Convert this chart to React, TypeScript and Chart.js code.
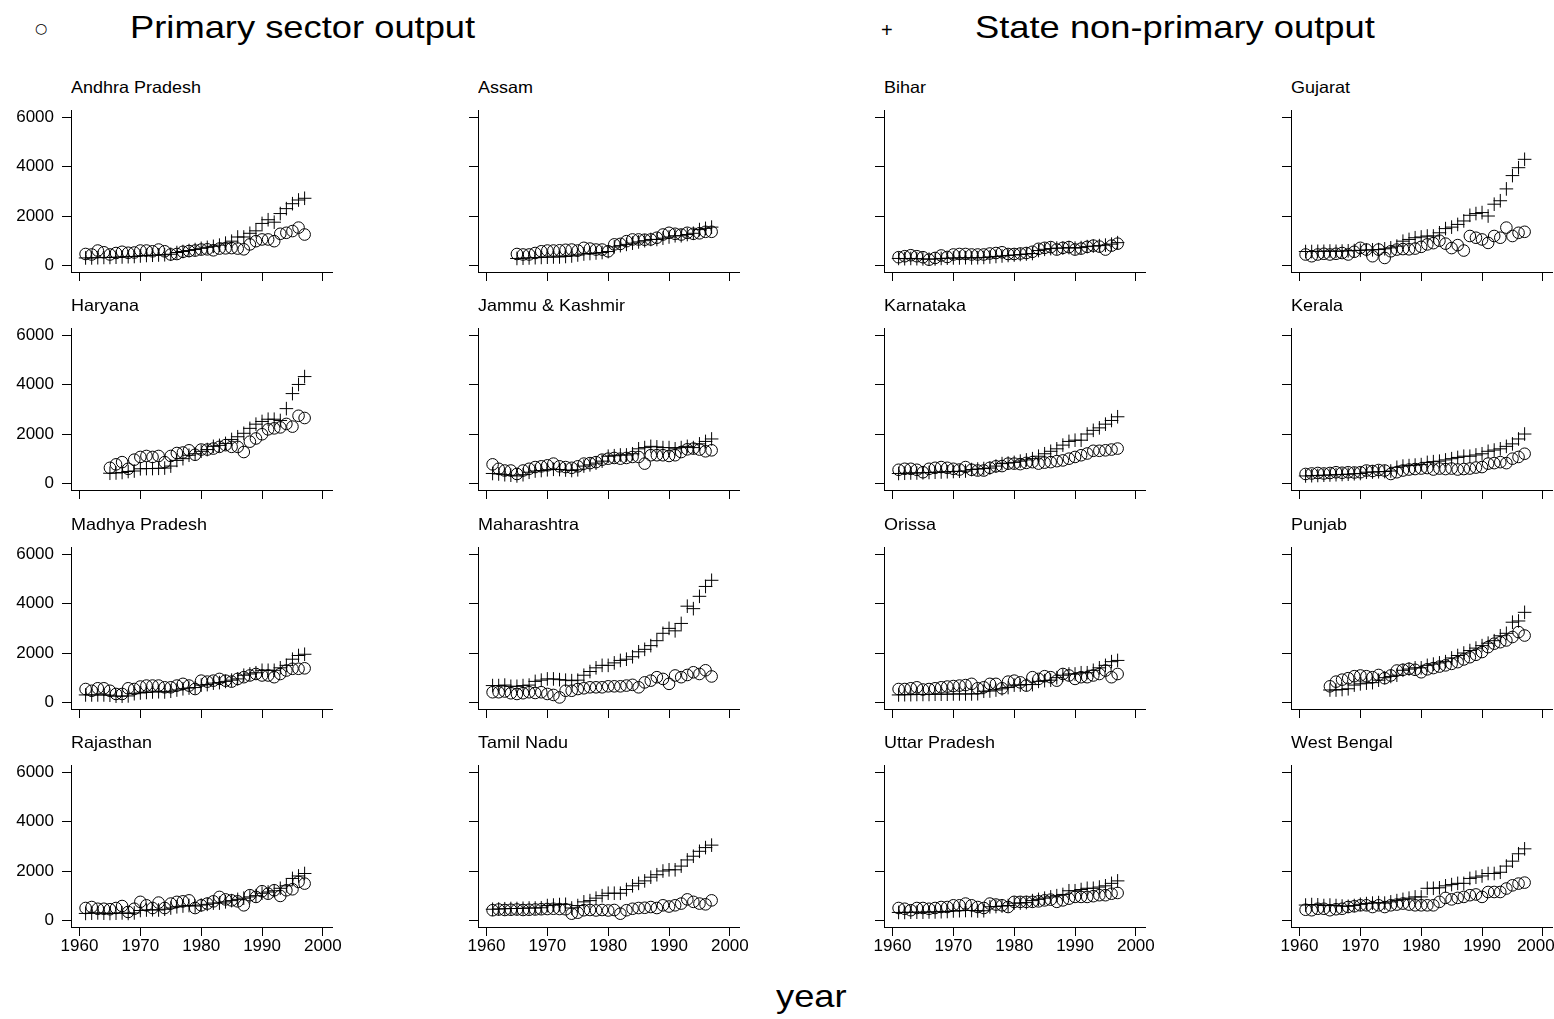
import React, { useEffect, useRef } from 'react';
import { Chart, registerables } from 'chart.js';

Chart.register(...registerables);

// ---------------- DATA ----------------
const years = [
  1961, 1962, 1963, 1964, 1965, 1966, 1967, 1968, 1969, 1970,
  1971, 1972, 1973, 1974, 1975, 1976, 1977, 1978, 1979, 1980,
  1981, 1982, 1983, 1984, 1985, 1986, 1987, 1988, 1989, 1990,
  1991, 1992, 1993, 1994, 1995, 1996, 1997,
];

const stateNames = [
  'Andhra Pradesh', 'Assam', 'Bihar', 'Gujarat',
  'Haryana', 'Jammu & Kashmir', 'Karnataka', 'Kerala',
  'Madhya Pradesh', 'Maharashtra', 'Orissa', 'Punjab',
  'Rajasthan', 'Tamil Nadu', 'Uttar Pradesh', 'West Bengal',
];

const xTickValues = [1960, 1970, 1980, 1990, 2000];
const yTickValues = [0, 2000, 4000, 6000];
const legendLabels = ['Primary sector output', 'State non-primary output'];
const xAxisTitle = 'year';

const N = null;

const primaryAndhraPradesh = [460, 440, 600, 530, 440, 500, 550, 510, 520, 600, 600, 570, 640, 570, 440, 460, 550, 580, 600, 640, 650, 610, 680, 690, 700, 680, 650, 850, 980, 1050, 1050, 980, 1280, 1320, 1390, 1530, 1250];
const nonPrimaryAndhraPradesh = [300, 300, 310, 320, 320, 330, 340, 350, 360, 380, 400, 410, 420, 430, 450, 520, 560, 600, 640, 690, 730, 770, 820, 900, 980, 1150, 1150, 1300, 1400, 1700, 1850, 1750, 2100, 2300, 2500, 2650, 2720];

const primaryAssam = [N, N, N, N, 460, 440, 440, 500, 570, 600, 600, 610, 630, 640, 600, 710, 680, 640, 640, 570, 850, 870, 980, 1050, 1050, 1040, 1050, 1120, 1250, 1320, 1280, 1250, 1320, 1280, 1300, 1360, 1360];
const nonPrimaryAssam = [N, N, N, N, 280, 290, 300, 310, 320, 330, 340, 340, 360, 380, 420, 460, 480, 500, 520, 560, 750, 800, 850, 900, 950, 1000, 1050, 1050, 1100, 1150, 1200, 1200, 1250, 1300, 1450, 1500, 1550];

const primaryBihar = [330, 370, 410, 370, 330, 230, 300, 400, 340, 440, 460, 460, 440, 440, 440, 480, 500, 530, 460, 460, 480, 500, 550, 670, 710, 740, 640, 710, 740, 640, 680, 750, 800, 760, 640, 800, 880];
const nonPrimaryBihar = [280, 270, 280, 270, 260, 250, 260, 280, 290, 300, 300, 310, 300, 310, 320, 340, 360, 380, 400, 420, 440, 460, 480, 600, 650, 680, 700, 700, 720, 700, 720, 760, 780, 800, 820, 860, 920];

const primaryGujarat = [440, 370, 440, 470, 440, 470, 500, 440, 550, 710, 640, 370, 640, 300, 570, 640, 660, 650, 680, 750, 850, 900, 1000, 880, 700, 820, 600, 1190, 1120, 1050, 910, 1190, 1120, 1530, 1190, 1320, 1360];
const nonPrimaryGujarat = [560, 560, 570, 570, 580, 570, 580, 590, 600, 610, 620, 630, 640, 670, 710, 780, 980, 1050, 1120, 1150, 1190, 1190, 1320, 1490, 1550, 1660, 1800, 2030, 2100, 2140, 2000, 2480, 2620, 3100, 3640, 3960, 4300];

const primaryHaryana = [N, N, N, N, 630, 770, 860, 590, 960, 1070, 1110, 1070, 1110, 860, 1110, 1230, 1250, 1340, 1160, 1370, 1370, 1410, 1480, 1550, 1480, 1480, 1270, 1690, 1820, 1990, 2190, 2230, 2270, 2410, 2300, 2740, 2650];
const nonPrimaryHaryana = [N, N, N, N, 410, 420, 440, 480, 500, 590, 600, 600, 610, 620, 700, 930, 1000, 1140, 1200, 1300, 1370, 1500, 1540, 1620, 1780, 1890, 2030, 2230, 2400, 2510, 2600, 2600, 2550, 3030, 3640, 4010, 4330];

const primaryJammuKashmir = [770, 590, 520, 520, 380, 520, 590, 660, 690, 730, 800, 690, 660, 630, 690, 800, 820, 860, 960, 1000, 1030, 1000, 1030, 1070, 1070, 800, 1140, 1140, 1140, 1110, 1140, 1270, 1380, 1410, 1370, 1300, 1340];
const nonPrimaryJammuKashmir = [400, 380, 350, 330, 300, 350, 450, 500, 520, 550, 570, 560, 540, 520, 550, 700, 750, 820, 900, 1100, 1120, 1150, 1150, 1200, 1400, 1450, 1500, 1480, 1450, 1450, 1400, 1450, 1500, 1450, 1600, 1700, 1800];

const primaryKarnataka = [550, 590, 590, 550, 450, 590, 630, 660, 630, 590, 560, 660, 550, 520, 520, 630, 690, 700, 800, 800, 780, 830, 860, 800, 840, 860, 900, 930, 1000, 1070, 1140, 1210, 1320, 1320, 1340, 1370, 1410];
const nonPrimaryKarnataka = [400, 410, 420, 420, 430, 440, 450, 460, 470, 480, 490, 500, 560, 580, 600, 620, 700, 800, 820, 850, 900, 950, 1000, 1100, 1200, 1300, 1400, 1550, 1700, 1750, 1750, 2000, 2150, 2250, 2400, 2550, 2700];

const primaryKerala = [380, 400, 420, 400, 420, 450, 430, 450, 440, 450, 520, 500, 540, 520, 380, 450, 520, 560, 580, 600, 620, 560, 600, 580, 600, 560, 580, 600, 640, 660, 800, 820, 860, 820, 1000, 1070, 1200];
const nonPrimaryKerala = [300, 310, 320, 330, 340, 350, 360, 370, 390, 400, 450, 460, 470, 480, 500, 650, 700, 720, 740, 760, 850, 880, 900, 950, 1000, 1050, 1100, 1100, 1150, 1200, 1300, 1350, 1400, 1500, 1600, 1800, 2000];

const primaryMadhyaPradesh = [540, 470, 570, 570, 470, 340, 340, 570, 540, 640, 680, 680, 680, 610, 610, 680, 750, 680, 540, 880, 840, 880, 950, 880, 840, 950, 1020, 1090, 1150, 1090, 1090, 1020, 1150, 1290, 1360, 1360, 1380];
const nonPrimaryMadhyaPradesh = [300, 300, 300, 300, 290, 250, 250, 260, 350, 380, 400, 420, 430, 420, 450, 500, 550, 580, 600, 700, 720, 780, 800, 850, 900, 950, 1100, 1150, 1200, 1300, 1300, 1300, 1400, 1500, 1750, 1900, 1950];

const primaryMaharashtra = [410, 410, 440, 370, 340, 370, 410, 380, 410, 340, 300, 200, 470, 470, 540, 570, 610, 610, 610, 650, 650, 650, 680, 710, 610, 810, 880, 1020, 950, 750, 1090, 1020, 1110, 1220, 1150, 1300, 1050];
const nonPrimaryMaharashtra = [680, 680, 700, 650, 650, 680, 700, 850, 900, 950, 950, 920, 900, 880, 900, 1100, 1250, 1400, 1500, 1500, 1600, 1700, 1750, 1850, 2050, 2150, 2300, 2500, 2800, 3000, 2900, 3200, 3900, 3800, 4300, 4700, 4950];

const primaryOrissa = [540, 540, 570, 610, 520, 540, 570, 610, 640, 660, 680, 700, 750, 570, 610, 750, 750, 570, 840, 880, 810, 680, 1020, 950, 1060, 1020, 880, 1150, 1090, 950, 1020, 1020, 1090, 1150, 1290, 1020, 1150];
const nonPrimaryOrissa = [300, 310, 310, 320, 320, 320, 330, 330, 330, 340, 340, 340, 340, 350, 450, 460, 500, 550, 600, 700, 700, 720, 720, 850, 880, 900, 1000, 1100, 1150, 1150, 1200, 1200, 1300, 1400, 1500, 1650, 1700];

const primaryPunjab = [N, N, N, N, 650, 840, 920, 980, 1060, 1090, 1060, 1020, 1110, 980, 1090, 1290, 1320, 1360, 1320, 1220, 1340, 1390, 1450, 1500, 1560, 1630, 1740, 1830, 1930, 2040, 2240, 2380, 2440, 2510, 2650, 2850, 2710];
const nonPrimaryPunjab = [N, N, N, N, 500, 500, 520, 550, 700, 750, 780, 800, 900, 1000, 1050, 1100, 1300, 1350, 1400, 1400, 1500, 1550, 1600, 1650, 1800, 1900, 2000, 2100, 2200, 2300, 2400, 2500, 2700, 2800, 3250, 3300, 3650];

const primaryRajasthan = [500, 540, 470, 470, 450, 500, 580, 340, 470, 750, 610, 500, 720, 500, 680, 750, 770, 810, 500, 610, 680, 770, 950, 850, 810, 770, 610, 1020, 950, 1180, 1080, 1220, 990, 1220, 1260, 1560, 1490];
const nonPrimaryRajasthan = [280, 290, 300, 290, 280, 290, 300, 280, 300, 400, 420, 430, 420, 450, 500, 550, 580, 600, 580, 620, 650, 700, 700, 750, 800, 850, 900, 950, 1000, 1100, 1150, 1200, 1300, 1400, 1700, 1800, 1900];

const primaryTamilNadu = [410, 440, 420, 430, 440, 420, 430, 440, 450, 460, 470, 460, 450, 270, 310, 410, 420, 400, 420, 400, 420, 270, 410, 470, 500, 510, 540, 500, 610, 560, 610, 680, 850, 750, 680, 650, 810];
const nonPrimaryTamilNadu = [450, 460, 470, 480, 480, 490, 500, 500, 510, 600, 620, 640, 650, 500, 600, 750, 800, 900, 1000, 1100, 1100, 1100, 1250, 1400, 1500, 1600, 1750, 1850, 2000, 2050, 2050, 2200, 2450, 2600, 2800, 2950, 3050];

const primaryUttarPradesh = [500, 470, 410, 500, 500, 470, 500, 540, 540, 610, 610, 680, 610, 540, 500, 680, 640, 610, 540, 750, 750, 750, 750, 770, 810, 840, 750, 810, 880, 950, 950, 950, 980, 1020, 1020, 1080, 1110];
const nonPrimaryUttarPradesh = [320, 320, 330, 330, 330, 340, 340, 350, 360, 380, 390, 400, 400, 380, 390, 550, 560, 580, 600, 700, 700, 720, 800, 850, 900, 950, 1000, 1050, 1200, 1200, 1250, 1300, 1300, 1350, 1400, 1500, 1600];

const primaryWestBengal = [430, 410, 470, 470, 410, 450, 470, 540, 570, 610, 610, 540, 610, 540, 610, 640, 680, 640, 610, 610, 610, 610, 750, 910, 850, 910, 950, 1020, 1050, 950, 1150, 1150, 1150, 1290, 1420, 1490, 1530];
const nonPrimaryWestBengal = [620, 640, 630, 600, 620, 600, 580, 570, 600, 650, 680, 700, 720, 700, 750, 800, 850, 900, 950, 950, 1300, 1300, 1320, 1400, 1450, 1500, 1500, 1700, 1750, 1800, 1900, 1900, 1950, 2200, 2400, 2700, 2900];

const primarySeries = [
  primaryAndhraPradesh, primaryAssam, primaryBihar, primaryGujarat,
  primaryHaryana, primaryJammuKashmir, primaryKarnataka, primaryKerala,
  primaryMadhyaPradesh, primaryMaharashtra, primaryOrissa, primaryPunjab,
  primaryRajasthan, primaryTamilNadu, primaryUttarPradesh, primaryWestBengal,
];
const nonPrimarySeries = [
  nonPrimaryAndhraPradesh, nonPrimaryAssam, nonPrimaryBihar, nonPrimaryGujarat,
  nonPrimaryHaryana, nonPrimaryJammuKashmir, nonPrimaryKarnataka, nonPrimaryKerala,
  nonPrimaryMadhyaPradesh, nonPrimaryMaharashtra, nonPrimaryOrissa, nonPrimaryPunjab,
  nonPrimaryRajasthan, nonPrimaryTamilNadu, nonPrimaryUttarPradesh, nonPrimaryWestBengal,
];

// ---------------- LAYOUT ----------------
const FONT = "'Liberation Sans', Arial, Helvetica, sans-serif";
const PLOT_W = 261;
const PLOT_H = 162;
const COL0 = 71;
const COL_STEP = 406.7;
const ROW0 = 110;
const ROW_STEP = 218.3;
const Y_AXIS_W = 70;
const PAD_TOP = 24;
const PAD_RIGHT = 24;
const X_AXIS_H = 40;
const X_MIN = 1958.6;
const X_MAX = 2001.5;
const Y_MIN = -270;
const Y_MAX = 6300;

const toPoints = (vals: (number | null)[]) =>
  years
    .map((yr, i) => ({ x: yr, y: vals[i] }))
    .filter((p) => p.y !== null && p.y !== undefined);

function Panel({ idx }: { idx: number }) {
  const ref = useRef<HTMLCanvasElement>(null);
  const col = idx % 4;
  const row = Math.floor(idx / 4);
  const plotLeft = Math.round(COL0 + col * COL_STEP);
  const plotTop = Math.round(ROW0 + row * ROW_STEP);
  const cw = Y_AXIS_W + PLOT_W + PAD_RIGHT;
  const ch = PAD_TOP + PLOT_H + X_AXIS_H;
  const showX = row === 3;
  const showY = col === 0;
  const lastCol = col === 3;

  useEffect(() => {
    const canvas = ref.current;
    if (!canvas) return;
    const chart = new Chart(canvas, {
      type: 'scatter',
      data: {
        datasets: [
          {
            label: legendLabels[0],
            data: toPoints(primarySeries[idx]),
            pointStyle: 'circle',
            pointRadius: 5.8,
            pointBorderWidth: 1,
            pointBorderColor: '#000',
            pointBackgroundColor: 'rgba(0,0,0,0)',
            showLine: false,
          },
          {
            label: legendLabels[1],
            data: toPoints(nonPrimarySeries[idx]),
            pointStyle: 'cross',
            pointRadius: 6.8,
            pointBorderWidth: 1,
            pointBorderColor: '#000',
            pointBackgroundColor: '#000',
            showLine: false,
          },
        ],
      },
      options: {
        animation: false,
        responsive: false,
        maintainAspectRatio: false,
        devicePixelRatio: 1,
        layout: { padding: { top: PAD_TOP, right: PAD_RIGHT, left: 0, bottom: 0 } },
        plugins: { legend: { display: false }, tooltip: { enabled: false }, title: { display: false } },
        scales: {
          x: {
            type: 'linear',
            min: X_MIN,
            max: X_MAX,
            afterBuildTicks: (s: any) => {
              s.ticks = xTickValues.map((v) => ({ value: v }));
            },
            afterFit: (s: any) => {
              s.height = X_AXIS_H;
            },
            grid: { drawOnChartArea: false, drawTicks: true, tickLength: 9, color: '#000', lineWidth: 1 },
            border: { display: true, color: '#000', width: 1 },
            ticks: {
              autoSkip: false,
              maxRotation: 0,
              padding: 0,
              color: '#000',
              font: { family: FONT, size: 17 },
              callback: (v: any) => {
                if (!showX) return '';
                // keep the last label of the right-most column inside the page
                if (lastCol && v === xTickValues[xTickValues.length - 1]) return String(v) + '   ';
                return String(v);
              },
            },
          },
          y: {
            type: 'linear',
            min: Y_MIN,
            max: Y_MAX,
            afterBuildTicks: (s: any) => {
              s.ticks = yTickValues.map((v) => ({ value: v }));
            },
            afterFit: (s: any) => {
              s.width = Y_AXIS_W;
            },
            grid: { drawOnChartArea: false, drawTicks: true, tickLength: 9, color: '#000', lineWidth: 1 },
            border: { display: true, color: '#000', width: 1 },
            ticks: {
              autoSkip: false,
              padding: 8,
              color: '#000',
              font: { family: FONT, size: 17 },
              callback: (v: any) => (showY ? String(v) : ''),
            },
          },
        },
      },
    } as any);
    return () => chart.destroy();
  }, [idx]);

  return (
    <>
      <div
        style={{
          position: 'absolute',
          left: plotLeft,
          top: plotTop - 31.3,
          fontFamily: FONT,
          fontSize: 16.5,
          lineHeight: '16.5px',
          color: '#000',
          whiteSpace: 'nowrap',
          transform: 'scaleX(1.09)',
          transformOrigin: 'left top',
        }}
      >
        {stateNames[idx]}
      </div>
      <canvas
        ref={ref}
        width={cw}
        height={ch}
        style={{
          position: 'absolute',
          left: plotLeft - Y_AXIS_W,
          top: plotTop - PAD_TOP,
          width: cw,
          height: ch,
        }}
      />
    </>
  );
}

const bigText: React.CSSProperties = {
  position: 'absolute',
  fontFamily: FONT,
  fontSize: 32,
  lineHeight: '32px',
  color: '#000',
  whiteSpace: 'nowrap',
  transform: 'scaleX(1.135)',
  transformOrigin: 'left top',
};

export default function App() {
  return (
    <div
      style={{
        position: 'absolute',
        left: 0,
        top: 0,
        width: 1554,
        height: 1019,
        overflow: 'hidden',
        background: '#fff',
      }}
    >
      <div
        style={{
          position: 'absolute',
          left: 35,
          top: 18,
          fontFamily: "'DejaVu Sans', sans-serif",
          fontSize: 14,
          lineHeight: '20px',
          color: '#000',
        }}
      >
        ○
      </div>
      <div style={{ ...bigText, left: 130, top: 11.2 }}>{legendLabels[0]}</div>
      <div
        style={{
          position: 'absolute',
          left: 881,
          top: 20,
          fontFamily: FONT,
          fontSize: 20,
          lineHeight: '20px',
          color: '#000',
        }}
      >
        +
      </div>
      <div style={{ ...bigText, left: 975, top: 11.2 }}>{legendLabels[1]}</div>
      {stateNames.map((_, i) => (
        <Panel key={i} idx={i} />
      ))}
      <div style={{ ...bigText, left: 776, top: 980 }}>{xAxisTitle}</div>
    </div>
  );
}
